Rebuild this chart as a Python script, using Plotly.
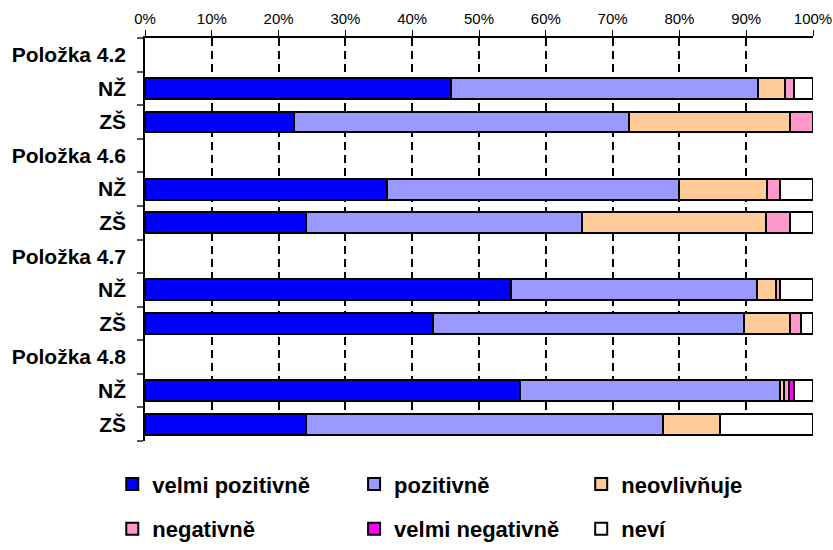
import plotly.graph_objects as go

# Survey items and respondent groups
items = ["Položka 4.2", "Položka 4.6", "Položka 4.7", "Položka 4.8"]
groups = ["NŽ", "ZŠ"]

# Shares in percent, ordered: 4.2 NŽ, 4.2 ZŠ, 4.6 NŽ, 4.6 ZŠ, 4.7 NŽ, 4.7 ZŠ, 4.8 NŽ, 4.8 ZŠ
velmi_pozitivne = [45.8, 22.3, 36.2, 24.1, 54.8, 43.1, 56.2, 24.1]
pozitivne = [45.9, 50.1, 43.8, 41.3, 36.8, 46.5, 38.9, 53.4]
neovlivnuje = [4.1, 24.1, 13.1, 27.6, 2.8, 6.9, 0.6, 8.6]
negativne = [1.4, 3.5, 2.0, 3.5, 0.7, 1.7, 0.7, 0.0]
velmi_negativne = [0.0, 0.0, 0.0, 0.0, 0.0, 0.0, 0.7, 0.0]
nevi = [2.8, 0.0, 4.9, 3.5, 4.9, 1.8, 2.9, 13.9]

# Percent axis ticks
x_tick_vals = [0, 10, 20, 30, 40, 50, 60, 70, 80, 90, 100]
x_tick_text = ["0%", "10%", "20%", "30%", "40%", "50%",
               "60%", "70%", "80%", "90%", "100%"]

series_names = ["velmi pozitivně", "pozitivně", "neovlivňuje",
                "negativně", "velmi negativně", "neví"]
series_values = [velmi_pozitivne, pozitivne, neovlivnuje,
                 negativne, velmi_negativne, nevi]
series_colors = ["#0000FF", "#9999FF", "#FFCC99", "#FF99CC", "#FF00FF", "#FFFFFF"]

# Row layout: each item gets a header row followed by one row per group
row_pos = []
for i in range(len(items)):
    for g in range(len(groups)):
        row_pos.append(3 * i + 1 + g)

tick_vals, tick_text = [], []
for i, name in enumerate(items):
    tick_vals.append(3 * i)
    tick_text.append(name)
    for g, grp in enumerate(groups):
        tick_vals.append(3 * i + 1 + g)
        tick_text.append(grp)
n_rows = 3 * len(items)

# Legend placement: two rows of three columns below the plot
legend_cols = [-0.049, 0.313, 0.653]
legend_rows = [-0.107, -0.218]
legend_ids = ["legend", "legend2", "legend3", "legend4", "legend5", "legend6"]

font_family = "Liberation Sans, Arial, sans-serif"

fig = go.Figure()
for k, (name, vals, col) in enumerate(zip(series_names, series_values, series_colors)):
    fig.add_trace(go.Bar(
        name=name,
        y=row_pos,
        x=[v if v > 0 else None for v in vals],
        orientation="h",
        width=0.62,
        marker=dict(color=col, line=dict(color="black", width=2)),
        legend=legend_ids[k],
    ))

layout_legends = {}
for k, lid in enumerate(legend_ids):
    layout_legends[lid] = dict(
        x=legend_cols[k % 3], y=legend_rows[k // 3],
        xanchor="left", yanchor="middle",
        bgcolor="rgba(0,0,0,0)", borderwidth=0,
        font=dict(family=font_family, size=22, color="black", weight="bold"),
        itemwidth=30,
    )

fig.update_layout(
    barmode="stack",
    width=833, height=550,
    margin=dict(l=145, r=20, t=38, b=109, pad=0, autoexpand=False),
    paper_bgcolor="white", plot_bgcolor="white",
    showlegend=True,
    **layout_legends,
)

fig.update_xaxes(
    side="top",
    range=[0, 100],
    tickmode="array", tickvals=x_tick_vals, ticktext=x_tick_text,
    ticks="outside", ticklen=6, tickwidth=1, tickcolor="black",
    showline=True, linecolor="black", linewidth=1.5,
    showgrid=True, gridcolor="black", gridwidth=2, griddash="8px,5px",
    zeroline=False,
    tickfont=dict(family=font_family, size=15, color="black"),
)

fig.update_yaxes(
    range=[n_rows - 0.5, -0.5],
    tickmode="array", tickvals=tick_vals, ticktext=tick_text,
    ticks="outside", ticklen=13, tickcolor="rgba(0,0,0,0)",
    minor=dict(tickvals=[r - 0.5 for r in range(n_rows + 1)],
               ticks="outside", ticklen=6, tickcolor="#555555", tickwidth=1.5),
    showline=True, linecolor="black", linewidth=1.5,
    showgrid=False, zeroline=False,
    tickfont=dict(family=font_family, size=21, color="black", weight="bold"),
)

fig.write_html("out.html")
